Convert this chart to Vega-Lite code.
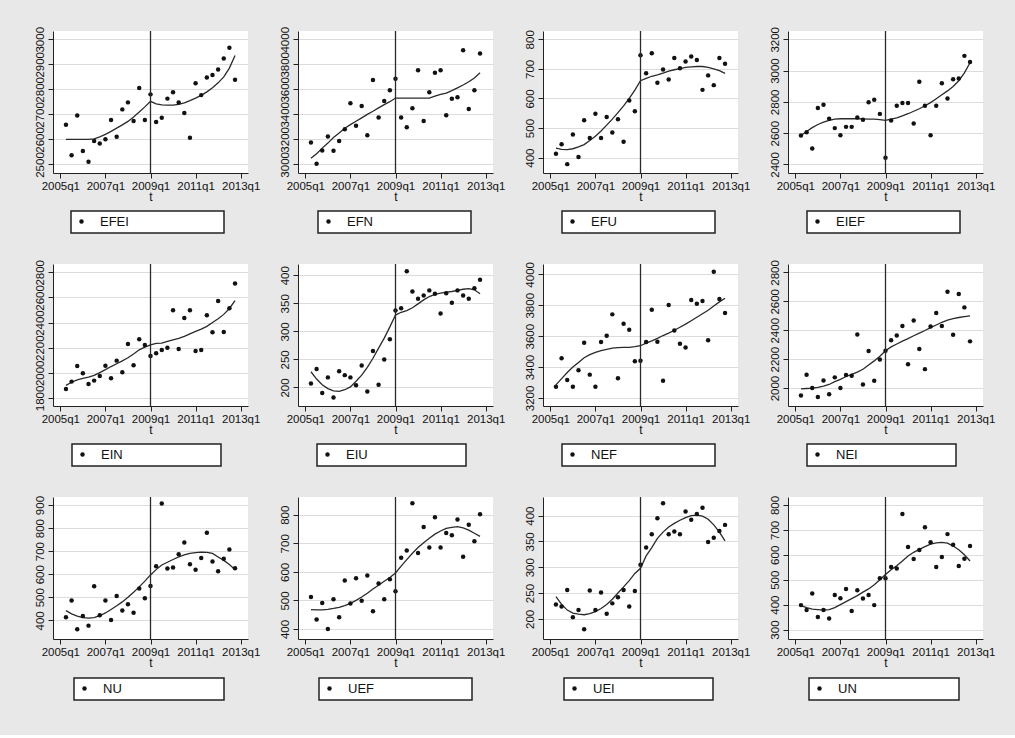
{
"$schema":"https://vega.github.io/schema/vega-lite/v6.json",
"background":"#e8e8e8",
"padding":{"left":34,"top":26,"right":20,"bottom":34},
"columns":4,
"spacing":{"row":91,"column":50},
"bounds":"flush",
"resolve":{"scale":{"x":"independent","y":"independent","shape":"independent"},"legend":{"shape":"independent"}},
"datasets":{
"EFEI":[{"s":"EFEI","t":181,"v":2659,"f":2600},{"s":"EFEI","t":182,"v":2537,"f":2600},{"s":"EFEI","t":183,"v":2696,"f":2600},{"s":"EFEI","t":184,"v":2554,"f":2600},{"s":"EFEI","t":185,"v":2511,"f":2600},{"s":"EFEI","t":186,"v":2594,"f":2602},{"s":"EFEI","t":187,"v":2584,"f":2610},{"s":"EFEI","t":188,"v":2601,"f":2620},{"s":"EFEI","t":189,"v":2678,"f":2632},{"s":"EFEI","t":190,"v":2611,"f":2645},{"s":"EFEI","t":191,"v":2720,"f":2658},{"s":"EFEI","t":192,"v":2748,"f":2672},{"s":"EFEI","t":193,"v":2674,"f":2690},{"s":"EFEI","t":194,"v":2805,"f":2710},{"s":"EFEI","t":195,"v":2678,"f":2730},{"s":"EFEI","t":196,"v":2780,"f":2752},{"s":"EFEI","t":197,"v":2670,"f":2742},{"s":"EFEI","t":198,"v":2687,"f":2738},{"s":"EFEI","t":199,"v":2763,"f":2737},{"s":"EFEI","t":200,"v":2788,"f":2737},{"s":"EFEI","t":201,"v":2748,"f":2740},{"s":"EFEI","t":202,"v":2706,"f":2746},{"s":"EFEI","t":203,"v":2607,"f":2755},{"s":"EFEI","t":204,"v":2824,"f":2765},{"s":"EFEI","t":205,"v":2777,"f":2776},{"s":"EFEI","t":206,"v":2847,"f":2790},{"s":"EFEI","t":207,"v":2857,"f":2806},{"s":"EFEI","t":208,"v":2879,"f":2826},{"s":"EFEI","t":209,"v":2923,"f":2850},{"s":"EFEI","t":210,"v":2966,"f":2885},{"s":"EFEI","t":211,"v":2838,"f":2935}],
"EFN":[{"s":"EFN","t":181,"v":3175,"f":3048},{"s":"EFN","t":182,"v":3005,"f":3085},{"s":"EFN","t":183,"v":3111,"f":3130},{"s":"EFN","t":184,"v":3223,"f":3170},{"s":"EFN","t":185,"v":3109,"f":3215},{"s":"EFN","t":186,"v":3186,"f":3250},{"s":"EFN","t":187,"v":3281,"f":3289},{"s":"EFN","t":188,"v":3488,"f":3318},{"s":"EFN","t":189,"v":3308,"f":3345},{"s":"EFN","t":190,"v":3467,"f":3372},{"s":"EFN","t":191,"v":3233,"f":3400},{"s":"EFN","t":192,"v":3674,"f":3425},{"s":"EFN","t":193,"v":3374,"f":3452},{"s":"EFN","t":194,"v":3507,"f":3478},{"s":"EFN","t":195,"v":3592,"f":3501},{"s":"EFN","t":196,"v":3684,"f":3530},{"s":"EFN","t":197,"v":3374,"f":3530},{"s":"EFN","t":198,"v":3297,"f":3530},{"s":"EFN","t":199,"v":3448,"f":3530},{"s":"EFN","t":200,"v":3753,"f":3530},{"s":"EFN","t":201,"v":3347,"f":3530},{"s":"EFN","t":202,"v":3576,"f":3530},{"s":"EFN","t":203,"v":3732,"f":3545},{"s":"EFN","t":204,"v":3753,"f":3560},{"s":"EFN","t":205,"v":3393,"f":3570},{"s":"EFN","t":206,"v":3525,"f":3590},{"s":"EFN","t":207,"v":3536,"f":3612},{"s":"EFN","t":208,"v":3912,"f":3634},{"s":"EFN","t":209,"v":3443,"f":3660},{"s":"EFN","t":210,"v":3592,"f":3690},{"s":"EFN","t":211,"v":3886,"f":3732}],
"EFU":[{"s":"EFU","t":181,"v":413,"f":432},{"s":"EFU","t":182,"v":445,"f":428},{"s":"EFU","t":183,"v":378,"f":427},{"s":"EFU","t":184,"v":478,"f":430},{"s":"EFU","t":185,"v":402,"f":436},{"s":"EFU","t":186,"v":526,"f":444},{"s":"EFU","t":187,"v":466,"f":458},{"s":"EFU","t":188,"v":548,"f":472},{"s":"EFU","t":189,"v":466,"f":490},{"s":"EFU","t":190,"v":537,"f":510},{"s":"EFU","t":191,"v":485,"f":530},{"s":"EFU","t":192,"v":530,"f":552},{"s":"EFU","t":193,"v":454,"f":575},{"s":"EFU","t":194,"v":593,"f":600},{"s":"EFU","t":195,"v":557,"f":628},{"s":"EFU","t":196,"v":746,"f":660},{"s":"EFU","t":197,"v":685,"f":668},{"s":"EFU","t":198,"v":753,"f":675},{"s":"EFU","t":199,"v":653,"f":680},{"s":"EFU","t":200,"v":698,"f":686},{"s":"EFU","t":201,"v":664,"f":692},{"s":"EFU","t":202,"v":737,"f":697},{"s":"EFU","t":203,"v":702,"f":701},{"s":"EFU","t":204,"v":725,"f":705},{"s":"EFU","t":205,"v":742,"f":707},{"s":"EFU","t":206,"v":730,"f":708},{"s":"EFU","t":207,"v":629,"f":708},{"s":"EFU","t":208,"v":678,"f":705},{"s":"EFU","t":209,"v":645,"f":700},{"s":"EFU","t":210,"v":737,"f":694},{"s":"EFU","t":211,"v":717,"f":685}],
"EIEF":[{"s":"EIEF","t":181,"v":2585,"f":2585},{"s":"EIEF","t":182,"v":2606,"f":2610},{"s":"EIEF","t":183,"v":2502,"f":2635},{"s":"EIEF","t":184,"v":2760,"f":2655},{"s":"EIEF","t":185,"v":2781,"f":2670},{"s":"EIEF","t":186,"v":2692,"f":2682},{"s":"EIEF","t":187,"v":2632,"f":2690},{"s":"EIEF","t":188,"v":2587,"f":2692},{"s":"EIEF","t":189,"v":2640,"f":2692},{"s":"EIEF","t":190,"v":2640,"f":2692},{"s":"EIEF","t":191,"v":2700,"f":2692},{"s":"EIEF","t":192,"v":2685,"f":2691},{"s":"EIEF","t":193,"v":2798,"f":2690},{"s":"EIEF","t":194,"v":2813,"f":2689},{"s":"EIEF","t":195,"v":2723,"f":2686},{"s":"EIEF","t":196,"v":2443,"f":2681},{"s":"EIEF","t":197,"v":2681,"f":2690},{"s":"EIEF","t":198,"v":2775,"f":2698},{"s":"EIEF","t":199,"v":2792,"f":2710},{"s":"EIEF","t":200,"v":2792,"f":2724},{"s":"EIEF","t":201,"v":2662,"f":2740},{"s":"EIEF","t":202,"v":2928,"f":2756},{"s":"EIEF","t":203,"v":2775,"f":2775},{"s":"EIEF","t":204,"v":2587,"f":2795},{"s":"EIEF","t":205,"v":2775,"f":2820},{"s":"EIEF","t":206,"v":2919,"f":2845},{"s":"EIEF","t":207,"v":2821,"f":2870},{"s":"EIEF","t":208,"v":2945,"f":2898},{"s":"EIEF","t":209,"v":2949,"f":2935},{"s":"EIEF","t":210,"v":3094,"f":2985},{"s":"EIEF","t":211,"v":3055,"f":3050}],
"EIN":[{"s":"EIN","t":181,"v":1872,"f":1900},{"s":"EIN","t":182,"v":1930,"f":1925},{"s":"EIN","t":183,"v":2055,"f":1943},{"s":"EIN","t":184,"v":1996,"f":1955},{"s":"EIN","t":185,"v":1911,"f":1966},{"s":"EIN","t":186,"v":1938,"f":1980},{"s":"EIN","t":187,"v":1975,"f":2002},{"s":"EIN","t":188,"v":2057,"f":2025},{"s":"EIN","t":189,"v":1957,"f":2050},{"s":"EIN","t":190,"v":2097,"f":2072},{"s":"EIN","t":191,"v":2004,"f":2095},{"s":"EIN","t":192,"v":2230,"f":2120},{"s":"EIN","t":193,"v":2060,"f":2150},{"s":"EIN","t":194,"v":2267,"f":2183},{"s":"EIN","t":195,"v":2222,"f":2205},{"s":"EIN","t":196,"v":2134,"f":2222},{"s":"EIN","t":197,"v":2155,"f":2235},{"s":"EIN","t":198,"v":2182,"f":2237},{"s":"EIN","t":199,"v":2200,"f":2250},{"s":"EIN","t":200,"v":2498,"f":2262},{"s":"EIN","t":201,"v":2190,"f":2275},{"s":"EIN","t":202,"v":2437,"f":2290},{"s":"EIN","t":203,"v":2498,"f":2310},{"s":"EIN","t":204,"v":2174,"f":2330},{"s":"EIN","t":205,"v":2182,"f":2348},{"s":"EIN","t":206,"v":2458,"f":2370},{"s":"EIN","t":207,"v":2323,"f":2400},{"s":"EIN","t":208,"v":2572,"f":2430},{"s":"EIN","t":209,"v":2325,"f":2465},{"s":"EIN","t":210,"v":2514,"f":2512},{"s":"EIN","t":211,"v":2710,"f":2575}],
"EIU":[{"s":"EIU","t":181,"v":207,"f":228},{"s":"EIU","t":182,"v":233,"f":215},{"s":"EIU","t":183,"v":190,"f":205},{"s":"EIU","t":184,"v":218,"f":198},{"s":"EIU","t":185,"v":182,"f":194},{"s":"EIU","t":186,"v":229,"f":193},{"s":"EIU","t":187,"v":222,"f":196},{"s":"EIU","t":188,"v":218,"f":201},{"s":"EIU","t":189,"v":204,"f":211},{"s":"EIU","t":190,"v":239,"f":222},{"s":"EIU","t":191,"v":193,"f":236},{"s":"EIU","t":192,"v":265,"f":252},{"s":"EIU","t":193,"v":205,"f":270},{"s":"EIU","t":194,"v":250,"f":288},{"s":"EIU","t":195,"v":286,"f":308},{"s":"EIU","t":196,"v":337,"f":329},{"s":"EIU","t":197,"v":341,"f":334},{"s":"EIU","t":198,"v":407,"f":337},{"s":"EIU","t":199,"v":371,"f":342},{"s":"EIU","t":200,"v":358,"f":349},{"s":"EIU","t":201,"v":364,"f":356},{"s":"EIU","t":202,"v":373,"f":362},{"s":"EIU","t":203,"v":367,"f":366},{"s":"EIU","t":204,"v":332,"f":368},{"s":"EIU","t":205,"v":368,"f":370},{"s":"EIU","t":206,"v":351,"f":371},{"s":"EIU","t":207,"v":373,"f":373},{"s":"EIU","t":208,"v":364,"f":375},{"s":"EIU","t":209,"v":358,"f":376},{"s":"EIU","t":210,"v":377,"f":374},{"s":"EIU","t":211,"v":392,"f":367}],
"NEF":[{"s":"NEF","t":181,"v":3273,"f":3285},{"s":"NEF","t":182,"v":3457,"f":3325},{"s":"NEF","t":183,"v":3316,"f":3365},{"s":"NEF","t":184,"v":3273,"f":3400},{"s":"NEF","t":185,"v":3379,"f":3430},{"s":"NEF","t":186,"v":3558,"f":3460},{"s":"NEF","t":187,"v":3351,"f":3480},{"s":"NEF","t":188,"v":3273,"f":3495},{"s":"NEF","t":189,"v":3562,"f":3507},{"s":"NEF","t":190,"v":3603,"f":3515},{"s":"NEF","t":191,"v":3741,"f":3522},{"s":"NEF","t":192,"v":3327,"f":3526},{"s":"NEF","t":193,"v":3681,"f":3527},{"s":"NEF","t":194,"v":3642,"f":3528},{"s":"NEF","t":195,"v":3437,"f":3532},{"s":"NEF","t":196,"v":3441,"f":3538},{"s":"NEF","t":197,"v":3562,"f":3555},{"s":"NEF","t":198,"v":3771,"f":3570},{"s":"NEF","t":199,"v":3564,"f":3586},{"s":"NEF","t":200,"v":3312,"f":3604},{"s":"NEF","t":201,"v":3802,"f":3620},{"s":"NEF","t":202,"v":3636,"f":3638},{"s":"NEF","t":203,"v":3551,"f":3658},{"s":"NEF","t":204,"v":3526,"f":3678},{"s":"NEF","t":205,"v":3834,"f":3700},{"s":"NEF","t":206,"v":3810,"f":3722},{"s":"NEF","t":207,"v":3827,"f":3745},{"s":"NEF","t":208,"v":3573,"f":3768},{"s":"NEF","t":209,"v":4017,"f":3795},{"s":"NEF","t":210,"v":3840,"f":3822},{"s":"NEF","t":211,"v":3750,"f":3845}],
"NEI":[{"s":"NEI","t":181,"v":1949,"f":1995},{"s":"NEI","t":182,"v":2092,"f":1997},{"s":"NEI","t":183,"v":2000,"f":1999},{"s":"NEI","t":184,"v":1938,"f":2005},{"s":"NEI","t":185,"v":2053,"f":2014},{"s":"NEI","t":186,"v":1958,"f":2025},{"s":"NEI","t":187,"v":2074,"f":2045},{"s":"NEI","t":188,"v":2000,"f":2060},{"s":"NEI","t":189,"v":2090,"f":2080},{"s":"NEI","t":190,"v":2085,"f":2095},{"s":"NEI","t":191,"v":2371,"f":2110},{"s":"NEI","t":192,"v":2025,"f":2130},{"s":"NEI","t":193,"v":2256,"f":2160},{"s":"NEI","t":194,"v":2051,"f":2188},{"s":"NEI","t":195,"v":2198,"f":2220},{"s":"NEI","t":196,"v":2258,"f":2258},{"s":"NEI","t":197,"v":2330,"f":2285},{"s":"NEI","t":198,"v":2364,"f":2305},{"s":"NEI","t":199,"v":2429,"f":2325},{"s":"NEI","t":200,"v":2164,"f":2342},{"s":"NEI","t":201,"v":2468,"f":2362},{"s":"NEI","t":202,"v":2270,"f":2380},{"s":"NEI","t":203,"v":2131,"f":2398},{"s":"NEI","t":204,"v":2426,"f":2418},{"s":"NEI","t":205,"v":2519,"f":2436},{"s":"NEI","t":206,"v":2429,"f":2455},{"s":"NEI","t":207,"v":2666,"f":2470},{"s":"NEI","t":208,"v":2369,"f":2480},{"s":"NEI","t":209,"v":2650,"f":2488},{"s":"NEI","t":210,"v":2558,"f":2494},{"s":"NEI","t":211,"v":2323,"f":2500}],
"NU":[{"s":"NU","t":181,"v":413,"f":442},{"s":"NU","t":182,"v":486,"f":428},{"s":"NU","t":183,"v":361,"f":418},{"s":"NU","t":184,"v":419,"f":412},{"s":"NU","t":185,"v":377,"f":410},{"s":"NU","t":186,"v":548,"f":412},{"s":"NU","t":187,"v":422,"f":420},{"s":"NU","t":188,"v":486,"f":432},{"s":"NU","t":189,"v":401,"f":447},{"s":"NU","t":190,"v":506,"f":463},{"s":"NU","t":191,"v":443,"f":480},{"s":"NU","t":192,"v":470,"f":500},{"s":"NU","t":193,"v":433,"f":522},{"s":"NU","t":194,"v":538,"f":545},{"s":"NU","t":195,"v":496,"f":570},{"s":"NU","t":196,"v":549,"f":597},{"s":"NU","t":197,"v":635,"f":620},{"s":"NU","t":198,"v":907,"f":640},{"s":"NU","t":199,"v":625,"f":652},{"s":"NU","t":200,"v":629,"f":664},{"s":"NU","t":201,"v":687,"f":675},{"s":"NU","t":202,"v":738,"f":684},{"s":"NU","t":203,"v":643,"f":690},{"s":"NU","t":204,"v":619,"f":694},{"s":"NU","t":205,"v":670,"f":696},{"s":"NU","t":206,"v":780,"f":695},{"s":"NU","t":207,"v":655,"f":690},{"s":"NU","t":208,"v":613,"f":675},{"s":"NU","t":209,"v":667,"f":660},{"s":"NU","t":210,"v":707,"f":642},{"s":"NU","t":211,"v":626,"f":620}],
"UEF":[{"s":"UEF","t":181,"v":512,"f":468},{"s":"UEF","t":182,"v":433,"f":467},{"s":"UEF","t":183,"v":491,"f":467},{"s":"UEF","t":184,"v":400,"f":469},{"s":"UEF","t":185,"v":504,"f":472},{"s":"UEF","t":186,"v":441,"f":476},{"s":"UEF","t":187,"v":570,"f":482},{"s":"UEF","t":188,"v":489,"f":490},{"s":"UEF","t":189,"v":578,"f":500},{"s":"UEF","t":190,"v":499,"f":512},{"s":"UEF","t":191,"v":587,"f":525},{"s":"UEF","t":192,"v":462,"f":540},{"s":"UEF","t":193,"v":559,"f":553},{"s":"UEF","t":194,"v":504,"f":567},{"s":"UEF","t":195,"v":574,"f":580},{"s":"UEF","t":196,"v":532,"f":596},{"s":"UEF","t":197,"v":649,"f":620},{"s":"UEF","t":198,"v":675,"f":643},{"s":"UEF","t":199,"v":840,"f":665},{"s":"UEF","t":200,"v":666,"f":685},{"s":"UEF","t":201,"v":757,"f":702},{"s":"UEF","t":202,"v":685,"f":718},{"s":"UEF","t":203,"v":791,"f":732},{"s":"UEF","t":204,"v":685,"f":743},{"s":"UEF","t":205,"v":736,"f":752},{"s":"UEF","t":206,"v":728,"f":756},{"s":"UEF","t":207,"v":783,"f":758},{"s":"UEF","t":208,"v":653,"f":754},{"s":"UEF","t":209,"v":765,"f":746},{"s":"UEF","t":210,"v":707,"f":735},{"s":"UEF","t":211,"v":802,"f":724}],
"UEI":[{"s":"UEI","t":181,"v":228,"f":243},{"s":"UEI","t":182,"v":224,"f":228},{"s":"UEI","t":183,"v":256,"f":217},{"s":"UEI","t":184,"v":203,"f":211},{"s":"UEI","t":185,"v":217,"f":209},{"s":"UEI","t":186,"v":180,"f":208},{"s":"UEI","t":187,"v":255,"f":210},{"s":"UEI","t":188,"v":217,"f":214},{"s":"UEI","t":189,"v":251,"f":220},{"s":"UEI","t":190,"v":210,"f":228},{"s":"UEI","t":191,"v":230,"f":238},{"s":"UEI","t":192,"v":242,"f":250},{"s":"UEI","t":193,"v":256,"f":262},{"s":"UEI","t":194,"v":224,"f":274},{"s":"UEI","t":195,"v":254,"f":288},{"s":"UEI","t":196,"v":305,"f":298},{"s":"UEI","t":197,"v":338,"f":322},{"s":"UEI","t":198,"v":364,"f":338},{"s":"UEI","t":199,"v":395,"f":356},{"s":"UEI","t":200,"v":424,"f":368},{"s":"UEI","t":201,"v":364,"f":378},{"s":"UEI","t":202,"v":369,"f":385},{"s":"UEI","t":203,"v":364,"f":391},{"s":"UEI","t":204,"v":408,"f":396},{"s":"UEI","t":205,"v":392,"f":400},{"s":"UEI","t":206,"v":403,"f":401},{"s":"UEI","t":207,"v":415,"f":399},{"s":"UEI","t":208,"v":349,"f":393},{"s":"UEI","t":209,"v":357,"f":382},{"s":"UEI","t":210,"v":370,"f":368},{"s":"UEI","t":211,"v":382,"f":351}],
"UN":[{"s":"UN","t":181,"v":398,"f":396},{"s":"UN","t":182,"v":378,"f":388},{"s":"UN","t":183,"v":445,"f":382},{"s":"UN","t":184,"v":350,"f":380},{"s":"UN","t":185,"v":378,"f":378},{"s":"UN","t":186,"v":344,"f":380},{"s":"UN","t":187,"v":439,"f":388},{"s":"UN","t":188,"v":426,"f":400},{"s":"UN","t":189,"v":463,"f":412},{"s":"UN","t":190,"v":374,"f":424},{"s":"UN","t":191,"v":458,"f":436},{"s":"UN","t":192,"v":425,"f":450},{"s":"UN","t":193,"v":439,"f":463},{"s":"UN","t":194,"v":398,"f":480},{"s":"UN","t":195,"v":506,"f":500},{"s":"UN","t":196,"v":506,"f":521},{"s":"UN","t":197,"v":551,"f":540},{"s":"UN","t":198,"v":545,"f":556},{"s":"UN","t":199,"v":764,"f":575},{"s":"UN","t":200,"v":631,"f":595},{"s":"UN","t":201,"v":583,"f":610},{"s":"UN","t":202,"v":619,"f":622},{"s":"UN","t":203,"v":711,"f":633},{"s":"UN","t":204,"v":650,"f":643},{"s":"UN","t":205,"v":551,"f":648},{"s":"UN","t":206,"v":591,"f":650},{"s":"UN","t":207,"v":683,"f":647},{"s":"UN","t":208,"v":640,"f":635},{"s":"UN","t":209,"v":555,"f":620},{"s":"UN","t":210,"v":584,"f":600},{"s":"UN","t":211,"v":635,"f":575}]
},
"concat":[
{"width":195,"height":142,"data":{"name":"EFEI"},"layer":[
 {"mark":{"type":"line","color":"#2a2a2a","strokeWidth":1.3},"encoding":{"x":{"field":"t","type":"quantitative","scale":{"domain":[178.7,213.3],"nice":false,"zero":false},"axis":{"values":[180,188,196,204,212],"labelExpr":"floor(datum.value/4)+1960+'q1'","title":"t"}},"y":{"field":"f","type":"quantitative","scale":{"domain":[2466,3033],"nice":false,"zero":false},"axis":{"values":[2500,2600,2700,2800,2900,3000],"format":"d","title":null}}}},
 {"mark":{"type":"point","filled":true,"size":20,"color":"#111","opacity":1},"encoding":{"x":{"field":"t","type":"quantitative"},"y":{"field":"v","type":"quantitative","axis":{"values":[2500,2600,2700,2800,2900,3000],"format":"d","title":null}},"shape":{"field":"s","type":"nominal","scale":{"range":["circle"]},"legend":{"title":null,"orient":"none","legendX":18,"legendY":180,"labelExpr":"pad(datum.label, 29, '\u00a0') + '\u200b'"}}}},
 {"data":{"values":[{"t":196}]},"mark":{"type":"rule","color":"#2a2a2a","strokeWidth":1.3},"encoding":{"x":{"field":"t","type":"quantitative"}}}]},
{"width":195,"height":142,"data":{"name":"EFN"},"layer":[
 {"mark":{"type":"line","color":"#2a2a2a","strokeWidth":1.3},"encoding":{"x":{"field":"t","type":"quantitative","scale":{"domain":[178.7,213.3],"nice":false,"zero":false},"axis":{"values":[180,188,196,204,212],"labelExpr":"floor(datum.value/4)+1960+'q1'","title":"t"}},"y":{"field":"f","type":"quantitative","scale":{"domain":[2931,4066],"nice":false,"zero":false},"axis":{"values":[3000,3200,3400,3600,3800,4000],"format":"d","title":null}}}},
 {"mark":{"type":"point","filled":true,"size":20,"color":"#111","opacity":1},"encoding":{"x":{"field":"t","type":"quantitative"},"y":{"field":"v","type":"quantitative","axis":{"values":[3000,3200,3400,3600,3800,4000],"format":"d","title":null}},"shape":{"field":"s","type":"nominal","scale":{"range":["circle"]},"legend":{"title":null,"orient":"none","legendX":20,"legendY":180,"labelExpr":"pad(datum.label, 29, '\u00a0') + '\u200b'"}}}},
 {"data":{"values":[{"t":196}]},"mark":{"type":"rule","color":"#2a2a2a","strokeWidth":1.3},"encoding":{"x":{"field":"t","type":"quantitative"}}}]},
{"width":195,"height":142,"data":{"name":"EFU"},"layer":[
 {"mark":{"type":"line","color":"#2a2a2a","strokeWidth":1.3},"encoding":{"x":{"field":"t","type":"quantitative","scale":{"domain":[178.7,213.3],"nice":false,"zero":false},"axis":{"values":[180,188,196,204,212],"labelExpr":"floor(datum.value/4)+1960+'q1'","title":"t"}},"y":{"field":"f","type":"quantitative","scale":{"domain":[348,828],"nice":false,"zero":false},"axis":{"values":[400,500,600,700,800],"format":"d","title":null}}}},
 {"mark":{"type":"point","filled":true,"size":20,"color":"#111","opacity":1},"encoding":{"x":{"field":"t","type":"quantitative"},"y":{"field":"v","type":"quantitative","axis":{"values":[400,500,600,700,800],"format":"d","title":null}},"shape":{"field":"s","type":"nominal","scale":{"range":["circle"]},"legend":{"title":null,"orient":"none","legendX":19,"legendY":180,"labelExpr":"pad(datum.label, 29, '\u00a0') + '\u200b'"}}}},
 {"data":{"values":[{"t":196}]},"mark":{"type":"rule","color":"#2a2a2a","strokeWidth":1.3},"encoding":{"x":{"field":"t","type":"quantitative"}}}]},
{"width":195,"height":142,"data":{"name":"EIEF"},"layer":[
 {"mark":{"type":"line","color":"#2a2a2a","strokeWidth":1.3},"encoding":{"x":{"field":"t","type":"quantitative","scale":{"domain":[178.7,213.3],"nice":false,"zero":false},"axis":{"values":[180,188,196,204,212],"labelExpr":"floor(datum.value/4)+1960+'q1'","title":"t"}},"y":{"field":"f","type":"quantitative","scale":{"domain":[2345,3253],"nice":false,"zero":false},"axis":{"values":[2400,2600,2800,3000,3200],"format":"d","title":null}}}},
 {"mark":{"type":"point","filled":true,"size":20,"color":"#111","opacity":1},"encoding":{"x":{"field":"t","type":"quantitative"},"y":{"field":"v","type":"quantitative","axis":{"values":[2400,2600,2800,3000,3200],"format":"d","title":null}},"shape":{"field":"s","type":"nominal","scale":{"range":["circle"]},"legend":{"title":null,"orient":"none","legendX":19,"legendY":180,"labelExpr":"pad(datum.label, 29, '\u00a0') + '\u200b'"}}}},
 {"data":{"values":[{"t":196}]},"mark":{"type":"rule","color":"#2a2a2a","strokeWidth":1.3},"encoding":{"x":{"field":"t","type":"quantitative"}}}]},
{"width":195,"height":142,"data":{"name":"EIN"},"layer":[
 {"mark":{"type":"line","color":"#2a2a2a","strokeWidth":1.3},"encoding":{"x":{"field":"t","type":"quantitative","scale":{"domain":[178.7,213.3],"nice":false,"zero":false},"axis":{"values":[180,188,196,204,212],"labelExpr":"floor(datum.value/4)+1960+'q1'","title":"t"}},"y":{"field":"f","type":"quantitative","scale":{"domain":[1736,2866],"nice":false,"zero":false},"axis":{"values":[1800,2000,2200,2400,2600,2800],"format":"d","title":null}}}},
 {"mark":{"type":"point","filled":true,"size":20,"color":"#111","opacity":1},"encoding":{"x":{"field":"t","type":"quantitative"},"y":{"field":"v","type":"quantitative","axis":{"values":[1800,2000,2200,2400,2600,2800],"format":"d","title":null}},"shape":{"field":"s","type":"nominal","scale":{"range":["circle"]},"legend":{"title":null,"orient":"none","legendX":19,"legendY":180,"labelExpr":"pad(datum.label, 29, '\u00a0') + '\u200b'"}}}},
 {"data":{"values":[{"t":196}]},"mark":{"type":"rule","color":"#2a2a2a","strokeWidth":1.3},"encoding":{"x":{"field":"t","type":"quantitative"}}}]},
{"width":195,"height":142,"data":{"name":"EIU"},"layer":[
 {"mark":{"type":"line","color":"#2a2a2a","strokeWidth":1.3},"encoding":{"x":{"field":"t","type":"quantitative","scale":{"domain":[178.7,213.3],"nice":false,"zero":false},"axis":{"values":[180,188,196,204,212],"labelExpr":"floor(datum.value/4)+1960+'q1'","title":"t"}},"y":{"field":"f","type":"quantitative","scale":{"domain":[167,420],"nice":false,"zero":false},"axis":{"values":[200,250,300,350,400],"format":"d","title":null}}}},
 {"mark":{"type":"point","filled":true,"size":20,"color":"#111","opacity":1},"encoding":{"x":{"field":"t","type":"quantitative"},"y":{"field":"v","type":"quantitative","axis":{"values":[200,250,300,350,400],"format":"d","title":null}},"shape":{"field":"s","type":"nominal","scale":{"range":["circle"]},"legend":{"title":null,"orient":"none","legendX":19,"legendY":180,"labelExpr":"pad(datum.label, 29, '\u00a0') + '\u200b'"}}}},
 {"data":{"values":[{"t":196}]},"mark":{"type":"rule","color":"#2a2a2a","strokeWidth":1.3},"encoding":{"x":{"field":"t","type":"quantitative"}}}]},
{"width":195,"height":142,"data":{"name":"NEF"},"layer":[
 {"mark":{"type":"line","color":"#2a2a2a","strokeWidth":1.3},"encoding":{"x":{"field":"t","type":"quantitative","scale":{"domain":[178.7,213.3],"nice":false,"zero":false},"axis":{"values":[180,188,196,204,212],"labelExpr":"floor(datum.value/4)+1960+'q1'","title":"t"}},"y":{"field":"f","type":"quantitative","scale":{"domain":[3148,4067],"nice":false,"zero":false},"axis":{"values":[3200,3400,3600,3800,4000],"format":"d","title":null}}}},
 {"mark":{"type":"point","filled":true,"size":20,"color":"#111","opacity":1},"encoding":{"x":{"field":"t","type":"quantitative"},"y":{"field":"v","type":"quantitative","axis":{"values":[3200,3400,3600,3800,4000],"format":"d","title":null}},"shape":{"field":"s","type":"nominal","scale":{"range":["circle"]},"legend":{"title":null,"orient":"none","legendX":19,"legendY":180,"labelExpr":"pad(datum.label, 29, '\u00a0') + '\u200b'"}}}},
 {"data":{"values":[{"t":196}]},"mark":{"type":"rule","color":"#2a2a2a","strokeWidth":1.3},"encoding":{"x":{"field":"t","type":"quantitative"}}}]},
{"width":195,"height":142,"data":{"name":"NEI"},"layer":[
 {"mark":{"type":"line","color":"#2a2a2a","strokeWidth":1.3},"encoding":{"x":{"field":"t","type":"quantitative","scale":{"domain":[178.7,213.3],"nice":false,"zero":false},"axis":{"values":[180,188,196,204,212],"labelExpr":"floor(datum.value/4)+1960+'q1'","title":"t"}},"y":{"field":"f","type":"quantitative","scale":{"domain":[1876,2858],"nice":false,"zero":false},"axis":{"values":[2000,2200,2400,2600,2800],"format":"d","title":null}}}},
 {"mark":{"type":"point","filled":true,"size":20,"color":"#111","opacity":1},"encoding":{"x":{"field":"t","type":"quantitative"},"y":{"field":"v","type":"quantitative","axis":{"values":[2000,2200,2400,2600,2800],"format":"d","title":null}},"shape":{"field":"s","type":"nominal","scale":{"range":["circle"]},"legend":{"title":null,"orient":"none","legendX":19,"legendY":180,"labelExpr":"pad(datum.label, 29, '\u00a0') + '\u200b'"}}}},
 {"data":{"values":[{"t":196}]},"mark":{"type":"rule","color":"#2a2a2a","strokeWidth":1.3},"encoding":{"x":{"field":"t","type":"quantitative"}}}]},
{"width":195,"height":142,"data":{"name":"NU"},"layer":[
 {"mark":{"type":"line","color":"#2a2a2a","strokeWidth":1.3},"encoding":{"x":{"field":"t","type":"quantitative","scale":{"domain":[178.7,213.3],"nice":false,"zero":false},"axis":{"values":[180,188,196,204,212],"labelExpr":"floor(datum.value/4)+1960+'q1'","title":"t"}},"y":{"field":"f","type":"quantitative","scale":{"domain":[319,935],"nice":false,"zero":false},"axis":{"values":[400,500,600,700,800,900],"format":"d","title":null}}}},
 {"mark":{"type":"point","filled":true,"size":20,"color":"#111","opacity":1},"encoding":{"x":{"field":"t","type":"quantitative"},"y":{"field":"v","type":"quantitative","axis":{"values":[400,500,600,700,800,900],"format":"d","title":null}},"shape":{"field":"s","type":"nominal","scale":{"range":["circle"]},"legend":{"title":null,"orient":"none","legendX":21,"legendY":181,"labelExpr":"pad(datum.label, 29, '\u00a0') + '\u200b'"}}}},
 {"data":{"values":[{"t":196}]},"mark":{"type":"rule","color":"#2a2a2a","strokeWidth":1.3},"encoding":{"x":{"field":"t","type":"quantitative"}}}]},
{"width":195,"height":142,"data":{"name":"UEF"},"layer":[
 {"mark":{"type":"line","color":"#2a2a2a","strokeWidth":1.3},"encoding":{"x":{"field":"t","type":"quantitative","scale":{"domain":[178.7,213.3],"nice":false,"zero":false},"axis":{"values":[180,188,196,204,212],"labelExpr":"floor(datum.value/4)+1960+'q1'","title":"t"}},"y":{"field":"f","type":"quantitative","scale":{"domain":[365,862],"nice":false,"zero":false},"axis":{"values":[400,500,600,700,800],"format":"d","title":null}}}},
 {"mark":{"type":"point","filled":true,"size":20,"color":"#111","opacity":1},"encoding":{"x":{"field":"t","type":"quantitative"},"y":{"field":"v","type":"quantitative","axis":{"values":[400,500,600,700,800],"format":"d","title":null}},"shape":{"field":"s","type":"nominal","scale":{"range":["circle"]},"legend":{"title":null,"orient":"none","legendX":21,"legendY":181,"labelExpr":"pad(datum.label, 29, '\u00a0') + '\u200b'"}}}},
 {"data":{"values":[{"t":196}]},"mark":{"type":"rule","color":"#2a2a2a","strokeWidth":1.3},"encoding":{"x":{"field":"t","type":"quantitative"}}}]},
{"width":195,"height":142,"data":{"name":"UEI"},"layer":[
 {"mark":{"type":"line","color":"#2a2a2a","strokeWidth":1.3},"encoding":{"x":{"field":"t","type":"quantitative","scale":{"domain":[178.7,213.3],"nice":false,"zero":false},"axis":{"values":[180,188,196,204,212],"labelExpr":"floor(datum.value/4)+1960+'q1'","title":"t"}},"y":{"field":"f","type":"quantitative","scale":{"domain":[161,436],"nice":false,"zero":false},"axis":{"values":[200,250,300,350,400],"format":"d","title":null}}}},
 {"mark":{"type":"point","filled":true,"size":20,"color":"#111","opacity":1},"encoding":{"x":{"field":"t","type":"quantitative"},"y":{"field":"v","type":"quantitative","axis":{"values":[200,250,300,350,400],"format":"d","title":null}},"shape":{"field":"s","type":"nominal","scale":{"range":["circle"]},"legend":{"title":null,"orient":"none","legendX":21,"legendY":181,"labelExpr":"pad(datum.label, 29, '\u00a0') + '\u200b'"}}}},
 {"data":{"values":[{"t":196}]},"mark":{"type":"rule","color":"#2a2a2a","strokeWidth":1.3},"encoding":{"x":{"field":"t","type":"quantitative"}}}]},
{"width":195,"height":142,"data":{"name":"UN"},"layer":[
 {"mark":{"type":"line","color":"#2a2a2a","strokeWidth":1.3},"encoding":{"x":{"field":"t","type":"quantitative","scale":{"domain":[178.7,213.3],"nice":false,"zero":false},"axis":{"values":[180,188,196,204,212],"labelExpr":"floor(datum.value/4)+1960+'q1'","title":"t"}},"y":{"field":"f","type":"quantitative","scale":{"domain":[262,832],"nice":false,"zero":false},"axis":{"values":[300,400,500,600,700,800],"format":"d","title":null}}}},
 {"mark":{"type":"point","filled":true,"size":20,"color":"#111","opacity":1},"encoding":{"x":{"field":"t","type":"quantitative"},"y":{"field":"v","type":"quantitative","axis":{"values":[300,400,500,600,700,800],"format":"d","title":null}},"shape":{"field":"s","type":"nominal","scale":{"range":["circle"]},"legend":{"title":null,"orient":"none","legendX":21,"legendY":181,"labelExpr":"pad(datum.label, 29, '\u00a0') + '\u200b'"}}}},
 {"data":{"values":[{"t":196}]},"mark":{"type":"rule","color":"#2a2a2a","strokeWidth":1.3},"encoding":{"x":{"field":"t","type":"quantitative"}}}]}
],
"config":{
 "font":"Liberation Sans",
 "view":{"fill":"white","stroke":null},
 "axis":{"domainColor":"#222","domainWidth":1,"tickColor":"#222","tickSize":5,"tickWidth":1,"labelColor":"#111","labelFontSize":11.5,"labelFont":"Liberation Sans","titleFont":"Liberation Sans","titleFontSize":12,"titleFontWeight":"normal","titleColor":"#111","labelOverlap":false,"labelFlush":false,"gridColor":"#dcdcdc","gridWidth":1},
 "axisX":{"grid":false,"labelPadding":2,"titlePadding":0},
 "axisY":{"grid":true,"labelAngle":-90,"labelAlign":"center","labelBaseline":"bottom","labelPadding":3},
 "legend":{"strokeColor":"#222","strokeWidth":1.5,"fillColor":"white","padding":4,"symbolSize":20,"symbolType":"circle","symbolFillColor":"#111","symbolStrokeColor":"#111","labelFontSize":13,"labelFont":"Liberation Sans","labelColor":"#111","labelOffset":12,"labelLimit":300}
}
}
